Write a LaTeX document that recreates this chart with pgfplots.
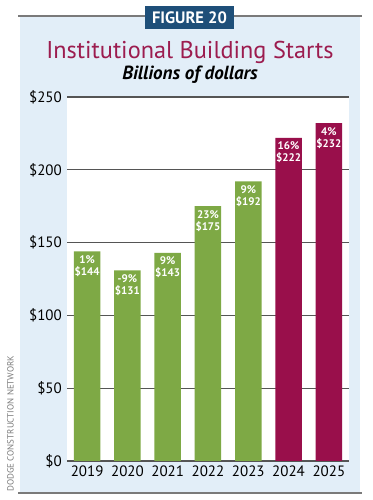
\documentclass[border=0pt]{standalone}
\usepackage{pgfplots}
\pgfplotsset{compat=1.18}
\usepackage{fontspec}
\setmainfont{PT Sans}
\definecolor{barG}{HTML}{7EA945}
\definecolor{barM}{HTML}{990F4B}
\definecolor{titleM}{HTML}{9C1C4F}
\definecolor{boxB}{HTML}{1E4F79}
\definecolor{panel}{HTML}{E2EEF8}
\definecolor{rule}{HTML}{7A7A7A}
\definecolor{gridc}{HTML}{555555}
\begin{document}
\begin{tikzpicture}
\path[use as bounding box] (0,0) rectangle (372pt,500pt);
\fill[panel] (20pt,7pt) rectangle (360pt,484pt);
\draw[rule, line width=2pt] (18pt,484pt) -- (362pt,484pt);
\draw[rule, line width=2pt] (18pt,7pt) -- (362pt,7pt);
\fill[boxB] (145pt,471pt) rectangle (234pt,494pt);
\node[white, font=\fontsize{16.5}{16.5}\selectfont\bfseries, inner sep=0pt] at (189.5pt,482.5pt) {FIGURE 20};
\node[titleM, font=\fontsize{24.3}{24.3}\selectfont, anchor=base, inner sep=0pt] at (190pt,441pt) {Institutional Building Starts};
\node[black, font=\fontsize{19}{19}\selectfont\bfseries\itshape, anchor=base, inner sep=0pt] at (190pt,420pt) {Billions of dollars};
\node[rule, font=\fontsize{9}{9}\selectfont, rotate=90, anchor=west, inner sep=0pt] at (10.5pt,8pt) {DODGE CONSTRUCTION NETWORK};
\begin{axis}[
  at={(67pt,39pt)}, anchor=south west,
  scale only axis, width=282pt, height=364pt,
  xmin=-0.5, xmax=6.5, ymin=0, ymax=250,
  ybar, bar width=26.5pt, bar shift=0pt,
  axis line style={draw=none},
  axis background/.style={fill=white},
  ytick={0,50,100,150,200,250},
  ymajorgrids, grid style={gridc, line width=1.2pt},
  major tick length=0pt,
  /pgf/number format/assume math mode=true,
  yticklabel={\$\pgfmathprintnumber{\tick}},
  yticklabel style={anchor=east, inner sep=0pt, xshift=-5pt, font=\fontsize{15}{15}\selectfont},
  xtick={0,1,2,3,4,5,6},
  xticklabels={2019,2020,2021,2022,2023,2024,2025},
  xticklabel style={anchor=north, inner sep=0pt, yshift=-5pt, font=\fontsize{15}{15}\selectfont},
  clip=false,
  nodes near coords={\pct\%\\\$\pgfmathprintnumber{\pgfplotspointmeta}},
  nodes near coords align={below},
  every node near coord/.append style={anchor=north, align=center, inner sep=0pt, yshift=-4pt, white, font=\fontsize{11}{12}\selectfont\bfseries},
  visualization depends on={value \thisrow{pct}\as\pct},
]
\addplot[fill=barG, draw=none] table[x=x, y=y] {
x y pct
0 144 1
1 131 -9
2 143 9
3 175 23
4 192 9
};
\addplot[fill=barM, draw=none] table[x=x, y=y] {
x y pct
5 222 16
6 232 4
};
\end{axis}
\end{tikzpicture}
\end{document}
